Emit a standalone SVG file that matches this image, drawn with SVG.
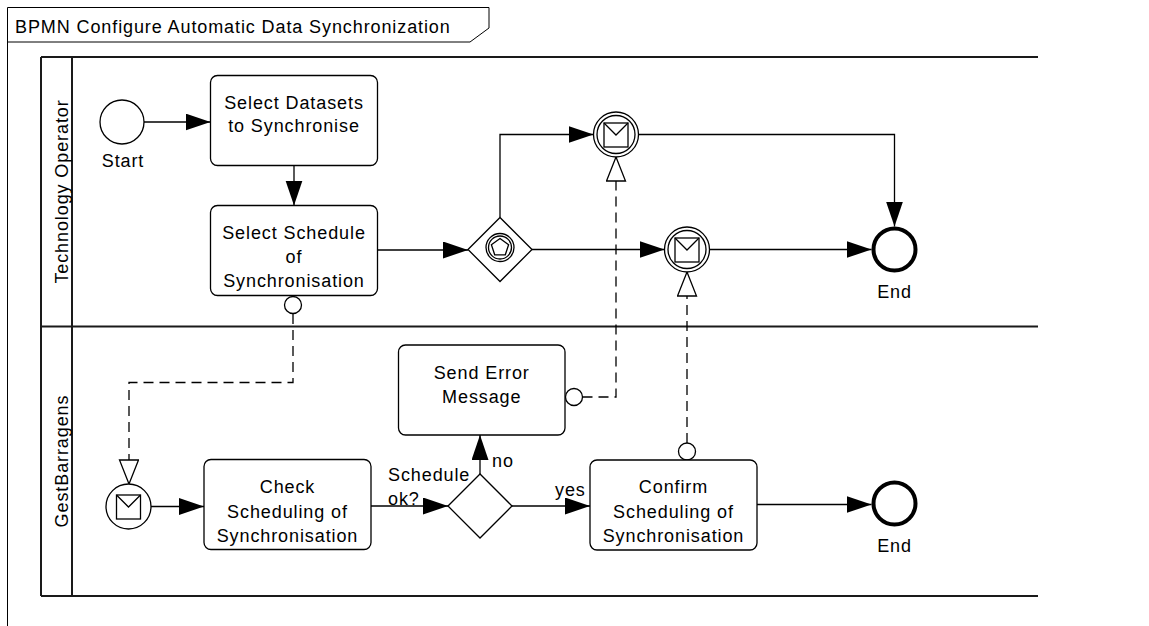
<svg xmlns="http://www.w3.org/2000/svg" width="1149" height="626" viewBox="0 0 1149 626">
<style>
text{font-family:"Liberation Sans",Arial,sans-serif;font-size:18px;letter-spacing:0.9px;fill:#000}
.c{text-anchor:middle}
.task{fill:#fff;stroke:#000;stroke-width:1.3}
.ev{fill:#fff;stroke:#000;stroke-width:1.3}
.end{fill:#fff;stroke:#000;stroke-width:4}
.pool{fill:none;stroke:#1a1a1a;stroke-width:2}
.flow{fill:none;stroke:#000;stroke-width:1.3}
.msg{fill:none;stroke:#000;stroke-width:1.3;stroke-dasharray:10 6}
.mcirc{fill:#fff;stroke:#000;stroke-width:1.3}
</style>
<defs>
<marker id="arr" markerUnits="userSpaceOnUse" markerWidth="26" markerHeight="18" refX="25" refY="8.5" orient="auto">
<path d="M0,0 L25,8.5 L0,17 z" fill="#000"/>
</marker>
<marker id="open" markerUnits="userSpaceOnUse" markerWidth="28" markerHeight="22" refX="25" refY="10" orient="auto">
<path d="M1,0.5 L25,10 L1,19.5 z" fill="#fff" stroke="#000" stroke-width="1.3" stroke-dasharray="none"/>
</marker>
</defs>

<g id="frame">
<path d="M7.5,626 V7.5 H489 V28 L470,42 H7.5" fill="none" stroke="#000" stroke-width="1"/>
<text x="15" y="32.5">BPMN Configure Automatic Data Synchronization</text>
</g>

<g id="pool">
<path class="pool" d="M41,57 H1038 M41,326.5 H1038 M41,596 H1038 M41,57 V596 M72,57 V596"/>
<text class="c" transform="translate(68,191.5) rotate(-90)">Technology Operator</text>
<text class="c" transform="translate(68,461) rotate(-90)">GestBarragens</text>
</g>

<g id="connectors">
<path class="flow" d="M144,122 H210.5" marker-end="url(#arr)"/>
<path class="flow" d="M294,165.5 V205.5" marker-end="url(#arr)"/>
<path class="flow" d="M377.5,250 H468" marker-end="url(#arr)"/>
<path class="flow" d="M500,217.5 V134.5 H593.5" marker-end="url(#arr)"/>
<path class="flow" d="M532,249.5 H664.5" marker-end="url(#arr)"/>
<path class="flow" d="M638.5,134.5 H894.5 V226.5" marker-end="url(#arr)"/>
<path class="flow" d="M709.5,249.5 H871.5" marker-end="url(#arr)"/>
<path class="flow" d="M151,506.5 H204" marker-end="url(#arr)"/>
<path class="flow" d="M371,506 H448" marker-end="url(#arr)"/>
<path class="flow" d="M480,474 V435" marker-end="url(#arr)"/>
<path class="flow" d="M512,506 H590" marker-end="url(#arr)"/>
<path class="flow" d="M757,504.5 H871.5" marker-end="url(#arr)"/>
<path class="msg" d="M293,314 V382.5 H129 V484" marker-end="url(#open)"/>
<circle class="mcirc" cx="293" cy="305" r="8.5"/>
<path class="msg" d="M582.5,397 H616 V157" marker-end="url(#open)"/>
<circle class="mcirc" cx="574" cy="397" r="8.5"/>
<path class="msg" d="M687,443 V272" marker-end="url(#open)"/>
<circle class="mcirc" cx="687" cy="451.5" r="8.5"/>
<text x="388" y="481">Schedule</text>
<text x="388" y="505">ok?</text>
<text x="492" y="467">no</text>
<text x="555" y="496">yes</text>
</g>

<g id="start">
<circle class="ev" cx="122" cy="122" r="22"/>
<text class="c" x="123" y="166.5">Start</text>
</g>

<g id="task1">
<rect class="task" x="210.5" y="75.5" width="167" height="90" rx="7"/>
<text class="c" x="294" y="108.5">Select Datasets</text>
<text class="c" x="294" y="131.5">to Synchronise</text>
</g>

<g id="task2">
<rect class="task" x="210.5" y="205.5" width="167" height="90" rx="7"/>
<text class="c" x="294" y="239">Select Schedule</text>
<text class="c" x="294" y="263">of</text>
<text class="c" x="294" y="287">Synchronisation</text>
</g>

<g id="gateway1">
<path d="M468,249.5 L500,217.5 L532,249.5 L500,281.5 z" fill="#fff" stroke="#000" stroke-width="1.3"/>
<circle cx="500" cy="247.5" r="14" fill="none" stroke="#000" stroke-width="1.3"/>
<circle cx="500" cy="247.5" r="11.5" fill="none" stroke="#000" stroke-width="1.3"/>
<path d="M500,238.5 L508.6,244.7 L505.3,254.8 L494.7,254.8 L491.4,244.7 z" fill="none" stroke="#000" stroke-width="1.3"/>
</g>

<g id="msgEvent1">
<circle class="ev" cx="616" cy="134.5" r="22.5"/>
<circle class="ev" cx="616" cy="134.5" r="19"/>
<rect x="604" y="123" width="24" height="24" fill="none" stroke="#000" stroke-width="1.3"/>
<path d="M604,123 L616,135 L628,123" fill="none" stroke="#000" stroke-width="1.3"/>
</g>

<g id="msgEvent2">
<circle class="ev" cx="687" cy="249.5" r="22.5"/>
<circle class="ev" cx="687" cy="249.5" r="19"/>
<rect x="675" y="238" width="24" height="24" fill="none" stroke="#000" stroke-width="1.3"/>
<path d="M675,238 L687,250 L699,238" fill="none" stroke="#000" stroke-width="1.3"/>
</g>

<g id="end1">
<circle class="end" cx="894.5" cy="249.5" r="21"/>
<text class="c" x="894.5" y="298">End</text>
</g>

<g id="msgStart">
<circle class="ev" cx="128.5" cy="506.5" r="22.5"/>
<rect x="116.5" y="495" width="24" height="24" fill="none" stroke="#000" stroke-width="1.3"/>
<path d="M116.5,495 L128.5,507 L140.5,495" fill="none" stroke="#000" stroke-width="1.3"/>
</g>

<g id="check">
<rect class="task" x="204" y="459.5" width="167" height="90" rx="7"/>
<text class="c" x="287.5" y="493">Check</text>
<text class="c" x="287.5" y="517.5">Scheduling of</text>
<text class="c" x="287.5" y="541.5">Synchronisation</text>
</g>

<g id="gateway2">
<path d="M448,506 L480,474 L512,506 L480,538 z" fill="#fff" stroke="#000" stroke-width="1.3"/>
</g>

<g id="sendError">
<rect class="task" x="398.5" y="345" width="166.5" height="90" rx="7"/>
<text class="c" x="481.75" y="378.5">Send Error</text>
<text class="c" x="481.75" y="402.5">Message</text>
</g>

<g id="confirm">
<rect class="task" x="590" y="460" width="167" height="90" rx="7"/>
<text class="c" x="673.5" y="493">Confirm</text>
<text class="c" x="673.5" y="517.5">Scheduling of</text>
<text class="c" x="673.5" y="541.5">Synchronisation</text>
</g>

<g id="end2">
<circle class="end" cx="894.5" cy="503.5" r="21"/>
<text class="c" x="894.5" y="552">End</text>
</g>
</svg>
